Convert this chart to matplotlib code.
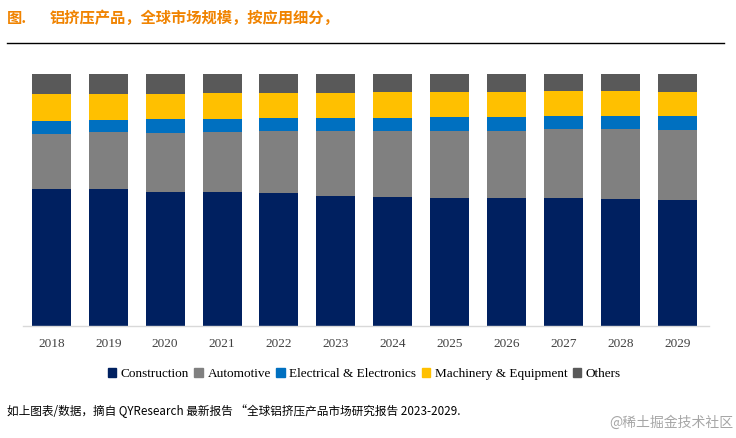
import numpy as np
import matplotlib
matplotlib.use("Agg")
import matplotlib.pyplot as plt
from matplotlib.patches import Patch

# データ（各年の構成比, 読み取り値）
years = ["2018", "2019", "2020", "2021", "2022", "2023",
         "2024", "2025", "2026", "2027", "2028", "2029"]
construction = [0.545, 0.544, 0.533, 0.533, 0.529, 0.517,
                0.513, 0.509, 0.509, 0.509, 0.505, 0.501]
automotive = [0.218, 0.224, 0.232, 0.237, 0.245, 0.256,
              0.260, 0.264, 0.264, 0.271, 0.275, 0.278]
electrical = [0.052, 0.050, 0.057, 0.053, 0.053, 0.053,
              0.053, 0.057, 0.057, 0.052, 0.052, 0.056]
machinery = [0.107, 0.104, 0.099, 0.103, 0.099, 0.099,
             0.103, 0.099, 0.099, 0.099, 0.099, 0.095]
others = [0.078, 0.078, 0.078, 0.074, 0.074, 0.074,
          0.070, 0.070, 0.070, 0.070, 0.070, 0.070]

labels = ["Construction", "Automotive", "Electrical & Electronics",
          "Machinery & Equipment", "Others"]
colors = ["#002060", "#808080", "#0070C0", "#FFC000", "#595959"]
series = [construction, automotive, electrical, machinery, others]

plt.rcParams['font.family'] = ['Noto Sans CJK SC', 'DejaVu Sans']

fig = plt.figure(figsize=(7.36, 4.38), dpi=100)
ax = fig.add_axes([0.031, 0.256, 0.932, 0.575])

x = np.arange(len(years))
bottom = np.zeros(len(years))
for vals, c, lab in zip(series, colors, labels):
    vals = np.array(vals)
    ax.bar(x, vals, bottom=bottom, width=0.685, color=c, label=lab)
    bottom += vals

ax.set_xlim(-0.5, 11.55)
ax.set_ylim(0, 1)
ax.set_yticks([])
for s in ["top", "right", "left"]:
    ax.spines[s].set_visible(False)
ax.spines["bottom"].set_color("#d9d9d9")
ax.spines["bottom"].set_linewidth(1.0)
ax.set_xticks(x)
ax.set_xticklabels(years, family="Liberation Serif", fontsize=9.5, color="#404040")
ax.tick_params(axis="x", length=0, pad=9)

# 凡例
handles = [Patch(color=c, label=l) for c, l in zip(colors, labels)]
fig.legend(handles=handles, loc="center", bbox_to_anchor=(0.495, 0.146),
           ncol=5, frameon=False, handlelength=0.65, handleheight=0.65,
           handletextpad=0.35, columnspacing=0.4,
           prop={"family": "Liberation Serif", "size": 9.5})

# タイトル
title_color = "#F08300"
fig.text(0.010, 0.958, "图.", color=title_color, fontsize=11,
         fontweight="bold", va="center")
fig.text(0.068, 0.958, "铝挤压产品，全球市场规模，按应用细分，", color=title_color,
         fontsize=11, fontweight="bold", va="center")
fig.add_artist(plt.Line2D([0.010, 0.984], [0.901, 0.901], color="black",
                          linewidth=1.0, transform=fig.transFigure))

# 出典
fig.text(0.010, 0.062, "如上图表/数据，摘自 QYResearch 最新报告 “全球铝挤压产品市场研究报告 2023-2029.",
         fontsize=8.4, style="italic", va="center", color="black")
fig.text(0.997, 0.034, "@稀土掘金技术社区", fontsize=10, color="#a6a6a6",
         ha="right", va="center")

fig.savefig("out.png", dpi=100)
